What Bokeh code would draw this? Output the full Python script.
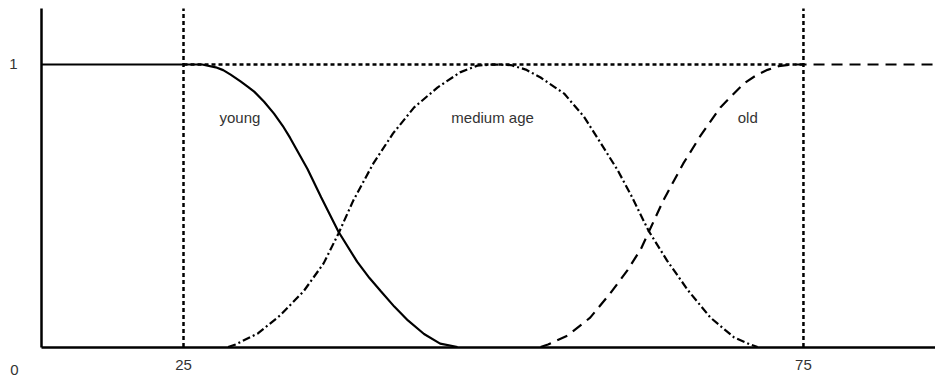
from bokeh.plotting import figure
from bokeh.models import Range1d, FixedTicker, ColumnDataSource, LinearAxis
from bokeh.core.properties import value
from bokeh.embed import file_html
from bokeh.resources import INLINE

# ---- data (age, membership) ----
axis_age_start = 13.55
axis_age_end = 85.65
axis_mu_top = 1.198

young_age = [axis_age_start, 26.5, 27.6, 28.2, 28.8, 29.6, 30.2, 30.7, 31.5, 32.3, 33.0, 33.6, 35.0, 36.1, 37.5,
             39.0, 40.0, 40.9, 42.0, 43.1, 44.4, 45.7, 47.1]
young_mu = [1.0, 1.0, 0.990, 0.980, 0.964, 0.940, 0.921, 0.904, 0.868, 0.826, 0.783, 0.740, 0.630, 0.530, 0.408,
            0.302, 0.244, 0.198, 0.143, 0.094, 0.046, 0.012, 0.0]

medium_age = [28.6, 29.2, 31.0, 32.8, 34.7, 36.3, 37.5, 38.7, 40.3, 41.9, 43.6, 45.5, 47.3, 48.7,
              50.0, 51.4, 52.6, 53.8, 55.7, 57.3, 58.6, 60.0, 61.1, 62.5, 64.0, 65.7, 67.5, 69.4, 70.7, 71.3]
medium_mu = [0.0, 0.009, 0.048, 0.112, 0.198, 0.296, 0.402, 0.519, 0.649, 0.756, 0.848, 0.919, 0.972, 0.996,
             1.0, 0.998, 0.982, 0.954, 0.897, 0.815, 0.725, 0.627, 0.537, 0.412, 0.306, 0.200, 0.104, 0.034, 0.009, 0.0]

old_age = [53.8, 54.4, 56.0, 57.8, 59.4, 60.8, 61.9, 62.5, 63.7, 65.3, 66.7, 68.3, 70.2, 71.2, 72.1, 73.0, 74.0, axis_age_end]
old_mu = [0.0, 0.009, 0.041, 0.104, 0.189, 0.271, 0.348, 0.405, 0.519, 0.649, 0.748, 0.848, 0.933, 0.962, 0.981, 0.994, 1.0, 1.0]

guide_ages = [25, 75]
full_membership = 1

x_ticks = [25, 75]
y_ticks = [1]

label_text = ["young", "medium age", "old"]
label_age = [27.9, 46.6, 69.7]
label_mu = [0.812, 0.812, 0.812]

origin_text = ["0"]
origin_age = [11.37]
origin_mu = [-0.08]

TEXT_COLOR = "#333333"
FONT = "Liberation Sans"

p = figure(width=935, height=378, output_backend="svg", toolbar_location=None,
           x_range=Range1d(10.24, 85.65), y_range=Range1d(-0.1115, 1.2265),
           x_axis_location=None, y_axis_location=None,
           min_border_left=0, min_border_bottom=0, min_border_top=0, min_border_right=0)
p.outline_line_color = None
p.grid.visible = False
p.background_fill_color = "white"
p.border_fill_color = "white"

xaxis = LinearAxis(fixed_location=0, bounds=(axis_age_start, axis_age_end))
yaxis = LinearAxis(fixed_location=axis_age_start, bounds=(0, axis_mu_top))
p.add_layout(xaxis, "below")
p.add_layout(yaxis, "left")

for ax in (xaxis, yaxis):
    ax.axis_line_color = "black"
    ax.axis_line_width = 2.5
    ax.major_tick_out = 0
    ax.major_tick_in = 0
    ax.minor_tick_out = 0
    ax.minor_tick_in = 0
    ax.major_label_text_font = FONT
    ax.major_label_text_font_size = "15px"
    ax.major_label_text_color = TEXT_COLOR
xaxis.ticker = FixedTicker(ticks=x_ticks)
yaxis.ticker = FixedTicker(ticks=y_ticks)
xaxis.major_label_standoff = 13
yaxis.major_label_standoff = 24

# guides
p.segment(x0=guide_ages, y0=[0, 0], x1=guide_ages, y1=[axis_mu_top, axis_mu_top],
          line_color="black", line_width=2.5, line_dash="4 3")
p.line(x=guide_ages, y=[full_membership, full_membership],
       line_color="black", line_width=2.5, line_dash="4 3")

# membership curves
p.line(young_age, young_mu, line_color="black", line_width=2.2)
p.line(medium_age, medium_mu, line_color="black", line_width=2.2, line_dash="8 3 2 3")
p.line(old_age, old_mu, line_color="black", line_width=2.2, line_dash="11 7")

src = ColumnDataSource(dict(x=label_age, y=label_mu, t=label_text))
p.text(x="x", y="y", text="t", source=src, text_font=value(FONT), text_font_size="15px",
       text_color=TEXT_COLOR, text_align="left", text_baseline="middle")

osrc = ColumnDataSource(dict(x=origin_age, y=origin_mu, t=origin_text))
p.text(x="x", y="y", text="t", source=osrc, text_font=value(FONT), text_font_size="15px",
       text_color=TEXT_COLOR, text_align="center", text_baseline="middle")

open("out.html", "w").write(file_html(p, INLINE))
